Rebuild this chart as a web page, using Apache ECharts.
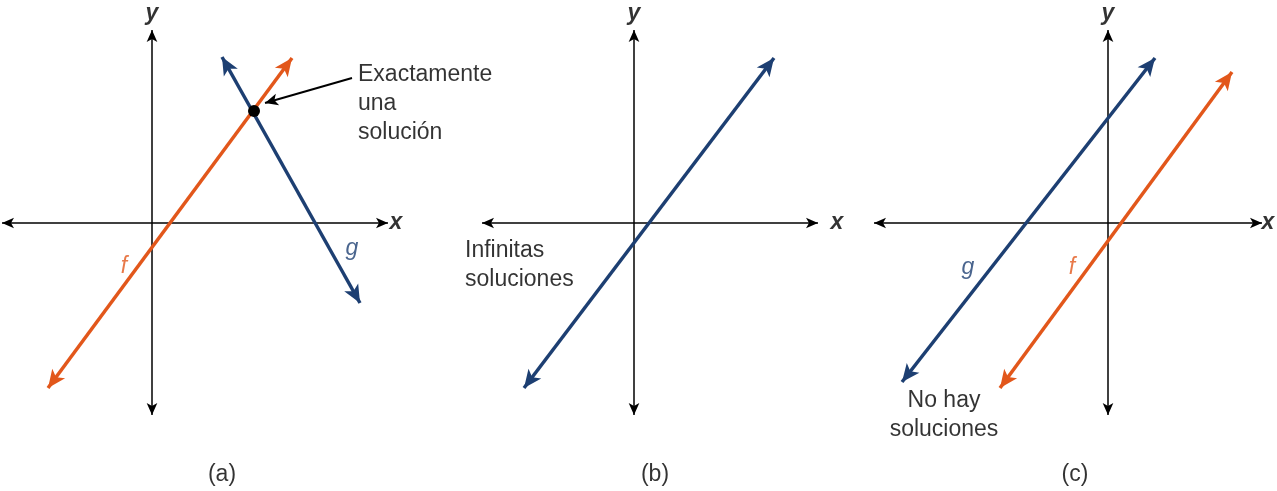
<!DOCTYPE html>
<html><head><meta charset="utf-8">
<script src="https://cdn.jsdelivr.net/npm/echarts@6/dist/echarts.min.js"></script>
<style>html,body{margin:0;background:#fff}#c{width:1277px;height:491px}</style>
</head><body><div id="c"></div>
<script>
// segments as [x1, y1, x2, y2] in picture units (y grows downward)
var axisSegs = [
  [2, 223, 388, 223], [152, 30, 152, 415],
  [482, 223, 818, 223], [634, 30, 634, 415],
  [874, 223, 1262, 223], [1108, 30, 1108, 415]
];
var orangeSegs = [[48, 388, 292, 58], [1000, 388, 1232, 72]];
var blueSegs = [[222, 57, 360, 303], [524, 388, 774, 58], [902, 382, 1155, 58]];
var pointerSeg = [[352, 78, 265, 103]];
var dot = [[254, 111]];
var axisLabels = [[152, 14, 'y'], [396, 223, 'x'], [634, 14, 'y'], [837, 223, 'x'], [1108, 14, 'y'], [1268, 223, 'x']];
var fnLabels = [[124, 267, 'f', '#e2571b'], [352, 249, 'g', '#1d3f72'], [968, 268, 'g', '#1d3f72'], [1072, 268, 'f', '#e2571b']];
var notes = [[358, 104, 'Exactamente\nuna\nsolución', 'left'], [465, 265, 'Infinitas\nsoluciones', 'left'], [944, 415, 'No hay\nsoluciones', 'center'],
  [222, 475, '(a)', 'center'], [655, 475, '(b)', 'center'], [1075, 475, '(c)', 'center']];

var myChart = echarts.init(document.getElementById('c'));

function segLines(segs, color, width, size, symbols) {
  return {
    type: 'line', data: [], silent: true, z: 2,
    markLine: {
      silent: true, animation: false,
      symbol: symbols || ['arrow', 'arrow'], symbolSize: size,
      label: { show: false },
      lineStyle: { color: color, width: width, type: 'solid' },
      data: segs.map(function (s) { return [{ coord: [s[0], s[1]] }, { coord: [s[2], s[3]] }]; })
    }
  };
}

var option = {
  animation: false,
  grid: { left: 0, right: 0, top: 0, bottom: 0 },
  xAxis: { type: 'value', min: 0, max: 1277, show: false },
  yAxis: { type: 'value', min: 0, max: 491, inverse: true, show: false },
  series: [
    segLines(axisSegs, '#000', 1.5, [8, 12]),
    segLines(orangeSegs, '#e2571b', 3.5, [12, 18]),
    segLines(blueSegs, '#1d3f72', 3.5, [12, 18]),
    segLines(pointerSeg, '#000', 2, [9, 13], ['none', 'arrow']),
    { type: 'scatter', data: dot, symbolSize: 12, z: 10, itemStyle: { color: '#000', opacity: 1 }, silent: true },
    {
      type: 'scatter', symbolSize: 0, silent: true,
      data: axisLabels.map(function (t) { return { value: [t[0], t[1]], name: t[2] }; }),
      label: { show: true, position: 'inside', formatter: '{b}', fontFamily: 'Liberation Sans', fontSize: 23, fontWeight: 'bold', fontStyle: 'italic', color: '#000' }
    },
    {
      type: 'scatter', symbolSize: 0, silent: true,
      data: fnLabels.map(function (t) {
        return { value: [t[0], t[1]], name: t[2], label: { color: t[3] } };
      }),
      label: { show: true, position: 'inside', formatter: '{b}', fontFamily: 'Liberation Sans', fontSize: 23, fontStyle: 'italic' }
    },
    {
      type: 'scatter', symbolSize: 0, silent: true,
      data: notes.map(function (t) {
        return { value: [t[0], t[1]], name: t[2], label: { align: t[3], position: t[3] === 'left' ? 'right' : 'inside', distance: 0 } };
      }),
      label: { show: true, formatter: '{b}', fontFamily: 'Liberation Sans', fontSize: 23, lineHeight: 29, color: '#000', textBorderWidth: 0 }
    }
  ]
};
myChart.setOption(option, true);
</script></body></html>
